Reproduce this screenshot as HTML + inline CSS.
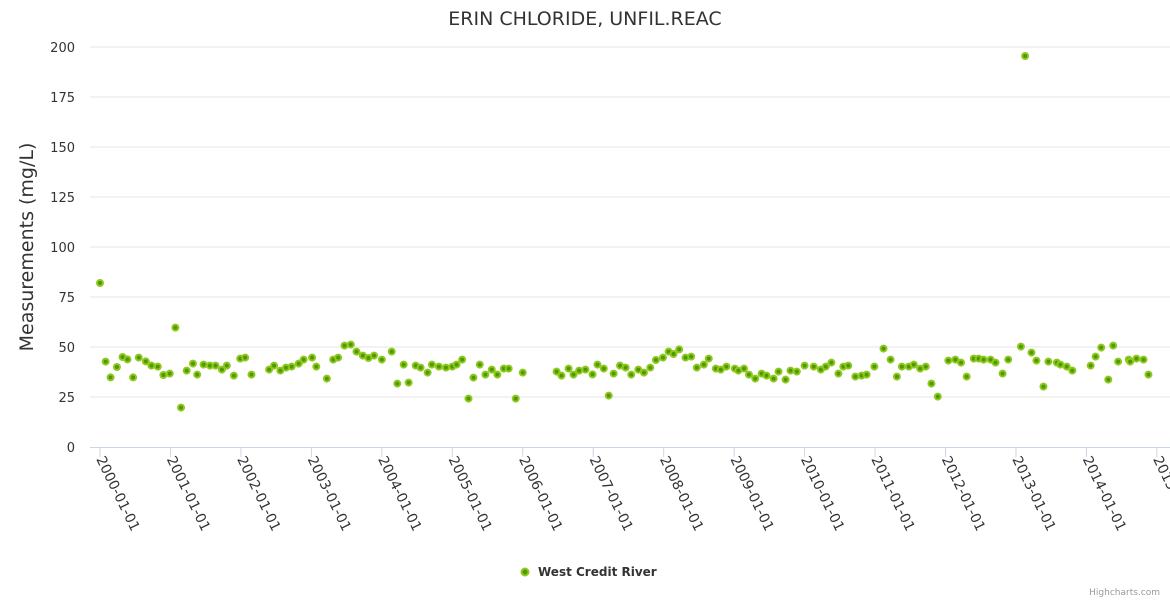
<!DOCTYPE html>
<html><head><meta charset="utf-8"><style>
body{margin:0;background:#fff;font-family:"DejaVu Sans",sans-serif}
svg text{font-family:"DejaVu Sans",sans-serif}
</style></head><body>
<svg id="chart" width="1170" height="600" xmlns="http://www.w3.org/2000/svg">
<text x="585" y="25" text-anchor="middle" font-size="19" fill="#333">ERIN CHLORIDE, UNFIL.REAC</text>
<text transform="translate(33,247) rotate(-90)" text-anchor="middle" font-size="19" fill="#333">Measurements (mg/L)</text>
<g id="grid"></g><g id="xaxis"></g><g id="pts"></g>
<g>
<circle cx="525" cy="572" r="3.5" fill="#4c9a00" stroke="#90c820" stroke-width="2"/>
<text x="538" y="576" font-size="12" font-weight="bold" fill="#333">West Credit River</text></g>
<text x="1160" y="595" text-anchor="end" font-size="9" fill="#999">Highcharts.com</text>
</svg>
<script>
const yTicks=[0,25,50,75,100,125,150,175,200];
const xTickYears=[2000,2001,2002,2003,2004,2005,2006,2007,2008,2009,2010,2011,2012,2013,2014,2015];
const dates=[0.00,0.08,0.15,0.24,0.32,0.39,0.47,0.55,0.65,0.73,0.82,0.90,0.99,1.07,1.15,1.23,1.32,1.38,1.47,1.56,1.64,1.73,1.80,1.90,1.99,2.06,2.15,2.40,2.47,2.56,2.64,2.72,2.82,2.89,3.01,3.07,3.22,3.31,3.38,3.47,3.56,3.64,3.73,3.81,3.89,4.00,4.14,4.22,4.31,4.38,4.48,4.55,4.65,4.71,4.81,4.91,5.00,5.06,5.14,5.23,5.30,5.39,5.47,5.56,5.64,5.73,5.80,5.90,6.00,6.48,6.55,6.65,6.72,6.80,6.89,6.99,7.06,7.15,7.22,7.29,7.38,7.46,7.54,7.64,7.72,7.81,7.89,7.99,8.07,8.14,8.22,8.31,8.39,8.47,8.57,8.64,8.74,8.81,8.89,9.01,9.06,9.14,9.21,9.30,9.39,9.46,9.56,9.63,9.73,9.80,9.89,10.00,10.13,10.23,10.30,10.38,10.48,10.55,10.62,10.72,10.81,10.88,10.99,11.12,11.22,11.31,11.38,11.48,11.55,11.64,11.72,11.80,11.89,12.04,12.14,12.22,12.30,12.40,12.47,12.54,12.64,12.71,12.81,12.89,13.07,13.13,13.22,13.29,13.39,13.46,13.58,13.63,13.72,13.80,14.06,14.13,14.21,14.31,14.38,14.45,14.60,14.62,14.71,14.81,14.88];
const values=[82,42.7,34.8,40,45,43.8,34.8,44.7,42.8,40.7,40.2,36,36.7,59.7,19.7,38.2,41.7,36.2,41.2,40.7,40.7,38.7,40.7,35.7,44.2,44.7,36.2,38.7,40.7,38.2,39.7,40.2,41.7,43.7,44.7,40.2,34.2,43.7,44.7,50.7,51.2,47.7,45.7,44.5,45.7,43.7,47.7,31.7,41.2,32.2,40.7,39.7,37.2,41.2,40.2,39.7,40.2,41.2,43.7,24.2,34.7,41.2,36.2,38.7,36.2,39.2,39.2,24.2,37.2,37.7,35.7,39.2,36.2,38.2,38.7,36.3,41.2,39.2,25.7,36.7,40.7,39.7,36.2,38.7,37.2,39.7,43.5,44.7,47.7,46.5,48.8,44.7,45.2,39.7,41.2,44.2,39.2,38.7,40.2,39.2,38.2,39.2,36.2,34.2,36.7,35.7,34.2,37.7,33.7,38.2,37.7,40.7,40.2,38.7,40.2,42.2,36.7,40.2,40.7,35.2,35.7,36.2,40.2,49.2,43.7,35.2,40.2,40.2,41.2,39.2,40.2,31.7,25.2,43.2,43.7,42.2,35.2,44.2,44.2,43.7,43.7,42.2,36.7,43.7,50.2,195.5,47.2,43.2,30.2,42.7,42.2,41.2,40.2,38.2,40.7,45.2,49.7,33.7,50.7,42.7,43.7,42.7,44.2,43.7,36.2];
const NS="http://www.w3.org/2000/svg";
const xS=t=>100+t*70.46, yS=v=>447-v*2;
const grid=document.getElementById('grid'),xa=document.getElementById('xaxis'),pts=document.getElementById('pts');
function mk(tag,attrs,parent){const e=document.createElementNS(NS,tag);for(const k in attrs)e.setAttribute(k,attrs[k]);parent.appendChild(e);return e;}
yTicks.forEach(v=>{
  if(v>0){const l=mk('line',{x1:90,x2:1170,y1:yS(v),y2:yS(v),stroke:'#e6e6e6'},grid);
  
  }
  const t=mk('text',{x:75,y:yS(v)+5,'text-anchor':'end','font-size':13,fill:'#333'},grid);t.textContent=v;
  
  
});
const ax=mk('line',{x1:90,x2:1170,y1:447.5,y2:447.5,stroke:'#ccd6eb'},xa);


xTickYears.forEach(y=>{
  const x=xS(y-2000);
  mk('line',{x1:x,x2:x,y1:447,y2:457,stroke:'#ccd6eb'},xa);
  const t=mk('text',{transform:`translate(${x-4},${459}) rotate(64)`,'font-size':14,fill:'#333'},xa);
  t.textContent=y+'-01-01';
  
  
});
dates.forEach((d,i)=>{
  const c=mk('circle',{cx:xS(d),cy:yS(values[i]),r:3,fill:'#4c9a00',stroke:'#90c820','stroke-width':2},pts);
  
  
});
</script>
</body></html>
